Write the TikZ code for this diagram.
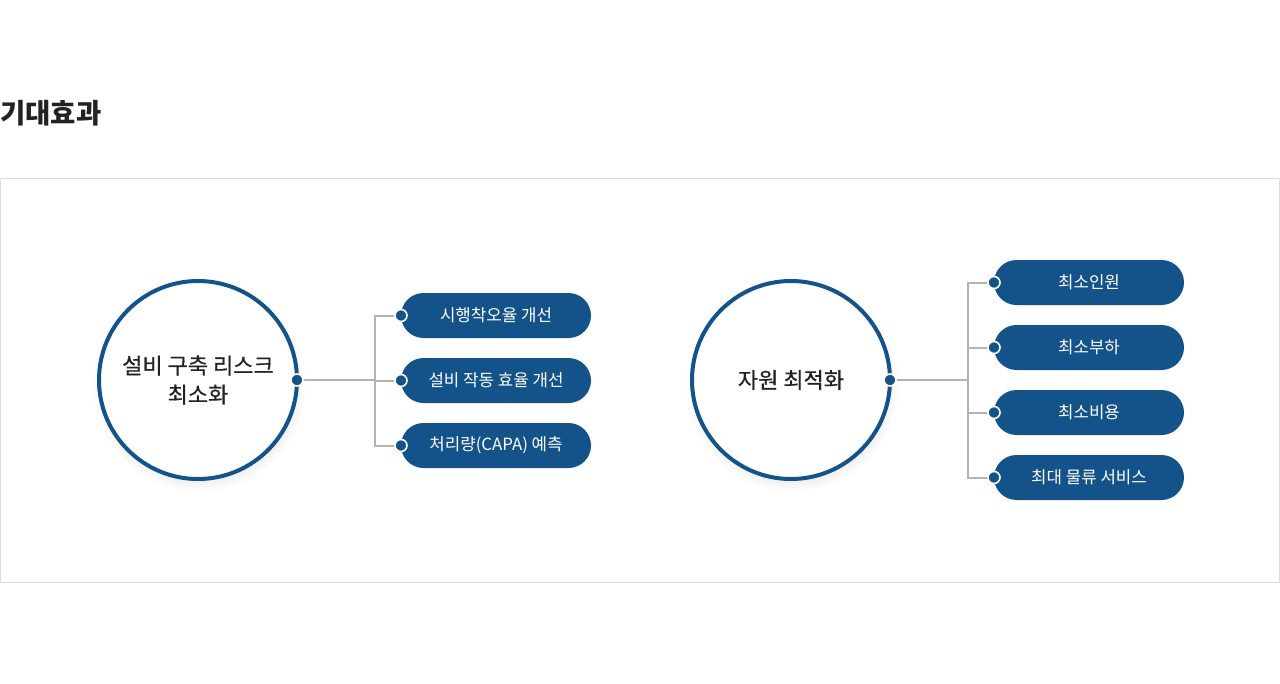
\documentclass[tikz,border=0pt]{standalone}
\usepackage{fontspec}
\setmainfont{Noto Sans CJK KR}
\newfontfamily\hubfont[FakeBold=0.6]{Noto Sans CJK KR}
\usetikzlibrary{positioning, shadows}
\definecolor{navy}{HTML}{14538A}
\definecolor{branchgray}{HTML}{B3B3B3}
\definecolor{framegray}{HTML}{DDDDDD}
\definecolor{inkdark}{HTML}{222222}

\begin{document}
\begin{tikzpicture}[
    x=1pt, y=1pt,
    hub/.style={circle, draw=navy, line width=4pt, fill=white, minimum size=198pt,
                inner sep=0pt, outer sep=0pt, align=center, text=inkdark,
                font=\hubfont\fontsize{22}{29}\selectfont,
                circular drop shadow={shadow xshift=1pt, shadow yshift=-5pt,
                                      shadow scale=1.08, opacity=0.16}},
    pill/.style={rounded corners=22.5pt, fill=navy, minimum width=190pt,
                 minimum height=45pt, inner sep=0pt, outer sep=0pt, text=white,
                 font=\fontsize{16.8}{20}\selectfont},
    dot/.style={circle, fill=navy, draw=white, line width=1.6pt,
                minimum size=12pt, inner sep=0pt},
    branch/.style={draw=branchgray, line width=2pt},
    title/.style={anchor=west, inner sep=0pt, text=inkdark,
                  font=\bfseries\fontsize{27.5}{32}\selectfont}
]

\useasboundingbox (0,0) rectangle (1280,-683);

% heading and frame
\node[title] (head) at (0,-113) {기대효과};
\draw[framegray, line width=1pt] (0.5,-178) rectangle (1279.5,-582);

% left group
\node[hub] (risk) at (198,-380) {설비 구축 리스크\\최소화};
\node[pill] (yield) at (496,-315.5) {시행착오율 개선};
\node[pill, below=20pt of yield] (oper) {설비 작동 효율 개선};
\node[pill, below=20pt of oper] (capa) {처리량(CAPA) 예측};

% right group
\node[hub] (res) at (791,-380) {자원 최적화};
\node[pill] (staff) at (1089,-282.5) {최소인원};
\node[pill, below=20pt of staff] (load) {최소부하};
\node[pill, below=20pt of load] (cost) {최소비용};
\node[pill, below=20pt of cost] (serv) {최대 물류 서비스};

% junctions
\coordinate (jleft) at (375,-380);
\coordinate (jright) at (968,-380);

% branches
\draw[branch] (risk.east) -- (jleft);
\foreach \p in {yield, oper, capa}
    \draw[branch] (jleft) |- (\p.west);
\draw[branch] (res.east) -- (jright);
\foreach \p in {staff, load, cost, serv}
    \draw[branch] (jright) |- (\p.west);

% end dots
\foreach \p in {risk, res}
    \node[dot] at (\p.east) {};
\foreach \p in {yield, oper, capa, staff, load, cost, serv}
    \node[dot] at (\p.west) {};

\end{tikzpicture}
\end{document}
